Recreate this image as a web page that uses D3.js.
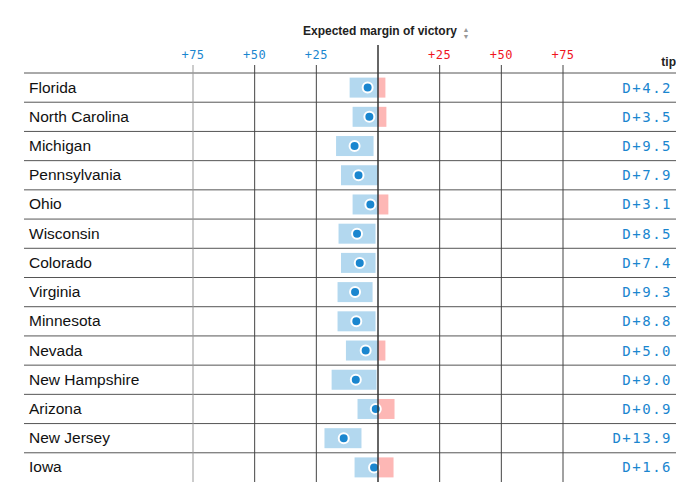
<!DOCTYPE html>
<html><head><meta charset="utf-8">
<script src="https://cdn.jsdelivr.net/npm/d3@7"></script>
<style>body{margin:0;background:#fff}</style></head>
<body><svg id="c" width="676" height="500"></svg>
<script>
var states = ['Florida','North Carolina','Michigan','Pennsylvania','Ohio','Wisconsin','Colorado','Virginia','Minnesota','Nevada','New Hampshire','Arizona','New Jersey','Iowa'];
var margins = [4.2,3.5,9.5,7.9,3.1,8.5,7.4,9.3,8.8,5.0,9.0,0.9,13.9,1.6];
var lows = [-11.5,-10.3,-17,-15,-10.3,-16,-15,-16.4,-16.4,-13,-18.8,-8.3,-21.7,-9.5];
var highs = [3,3.4,-1.8,0,4.2,-1,-1,-2.2,-1,3,-0.6,6.7,-6.7,6.3];
var ticks = [-75,-50,-25,25,50,75];

var svg = d3.select('#c');
var x = d3.scaleLinear().domain([-75,75]).range([193,563]);
var y = d3.scaleBand().domain(states).range([73,482]);
var blue = '#1a86cf', red = '#f0141e';

svg.append('text').attr('x',380).attr('y',35).attr('text-anchor','middle')
  .style('font','bold 12px "Liberation Sans", Arial').attr('fill','#222')
  .text('Expected margin of victory');
svg.append('text').attr('x',466).attr('y',32).attr('text-anchor','middle')
  .style('font','7px Arial').attr('fill','#999').text('▲');
svg.append('text').attr('x',466).attr('y',39).attr('text-anchor','middle')
  .style('font','7px Arial').attr('fill','#999').text('▼');

// tick labels
svg.selectAll('.tl').data(ticks).enter().append('text')
  .attr('x', function(d){ return x(d); }).attr('y',59).attr('text-anchor','middle')
  .style('font','12px "DejaVu Sans Mono", monospace').style('letter-spacing','0.5px')
  .attr('fill', function(d){ return d < 0 ? blue : red; })
  .text(function(d){ return '+' + Math.abs(d); });
svg.append('text').attr('x',676).attr('y',66).attr('text-anchor','end')
  .style('font','bold 12px "Liberation Sans", Arial').attr('fill','#222').text('tip');

// row lines
svg.selectAll('.rl').data(states).enter().append('line')
  .attr('x1',24).attr('x2',676)
  .attr('y1', function(d){ return y(d); }).attr('y2', function(d){ return y(d); })
  .attr('stroke','#555').attr('stroke-width',1);

// grid
svg.selectAll('.gl').data(ticks).enter().append('line')
  .attr('x1', function(d){ return x(d); }).attr('x2', function(d){ return x(d); })
  .attr('y1', 65).attr('y2', 482)
  .attr('stroke', function(d){ return d == -75 ? '#999' : '#444'; }).attr('stroke-width',1);

// bars
var g = svg.selectAll('.row').data(states).enter().append('g');
g.append('rect')
  .attr('x', function(d,i){ return x(lows[i]); })
  .attr('width', function(d,i){ return x(Math.min(highs[i],0)) - x(lows[i]); })
  .attr('y', function(d){ return y(d) + y.bandwidth()/2 - 10; }).attr('height',20)
  .attr('fill','#b3d8ef');
g.filter(function(d,i){ return highs[i] > 0; }).append('rect')
  .attr('x', x(0))
  .attr('width', function(d){ var i = states.indexOf(d); return x(highs[i]) - x(0); })
  .attr('y', function(d){ return y(d) + y.bandwidth()/2 - 10; }).attr('height',20)
  .attr('fill','#fdb7b5');

svg.append('line').attr('x1',x(0)).attr('x2',x(0)).attr('y1',45).attr('y2',482)
  .attr('stroke','#333').attr('stroke-width',1.5);

g.append('circle')
  .attr('cx', function(d,i){ return x(-margins[i]); })
  .attr('cy', function(d){ return y(d) + y.bandwidth()/2; })
  .attr('r',5).attr('fill',blue).attr('stroke','#fff').attr('stroke-width',2);

g.append('text').attr('x',29)
  .attr('y', function(d){ return y(d) + y.bandwidth()/2 + 5; })
  .style('font','15.5px "Liberation Sans", Arial').attr('fill','#111')
  .text(function(d){ return d; });

g.append('text').attr('x',672).attr('text-anchor','end')
  .attr('y', function(d){ return y(d) + y.bandwidth()/2 + 5; })
  .style('font','14px "DejaVu Sans Mono", monospace').style('letter-spacing','1.5px').attr('fill',blue)
  .text(function(d,i){ return 'D+' + margins[i].toFixed(1); });
</script></body></html>
